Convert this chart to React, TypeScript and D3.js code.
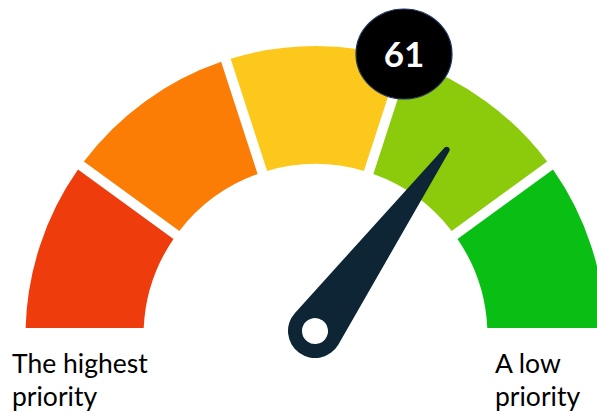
import React from 'react';
import * as d3 from 'd3';

// five bands of the gauge, left (highest priority) to right (low priority)
const bands = ['highest', 'high', 'medium', 'low-ish', 'low'];
const bandColors = ['#ef3c0d', '#fb7d06', '#fcc81b', '#8ccb0c', '#09bf13'];
const displayValue = 61;
const needleValue = 70; // where the needle actually points on a 0-100 dial
const leftLabel = ['The highest', 'priority'];
const rightLabel = ['A low', 'priority'];

const W = 597;
const H = 416;

export default function App() {
  const cx = 315.5;
  const cy = 336;
  const rOuter = 290;
  const rInner = 172;
  const gap = 10;

  // value -> angle (degrees clockwise from 12 o'clock)
  const angle = d3.scaleLinear().domain([0, 100]).range([-90, 90]);
  const bandScale = d3.scaleBand<string>().domain(bands).range([-Math.PI / 2, Math.PI / 2]);

  const arc = d3.arc<any>()
    .innerRadius(rInner)
    .outerRadius(rOuter)
    .padRadius(rOuter)
    .padAngle(gap / rOuter);

  // needle: tapered shape between a base circle and a small tip circle
  const pivot = { x: 315, y: 331 };
  const baseR = 27;
  const tipR = 3;
  const len = 224;
  const needlePath = (() => {
    const a = Math.asin((baseR - tipR) / len);
    const p = d3.path();
    const bx1 = -baseR * Math.cos(a), by1 = -baseR * Math.sin(a);
    const tx1 = -tipR * Math.cos(a), ty1 = -len - tipR * Math.sin(a);
    p.moveTo(bx1, by1);
    p.lineTo(tx1, ty1);
    p.arc(0, -len, tipR, Math.PI + a, 2 * Math.PI - a);
    p.lineTo(baseR * Math.cos(a), -baseR * Math.sin(a));
    p.arc(0, 0, baseR, -a, Math.PI + a);
    p.closePath();
    return p.toString();
  })();

  return (
    <div>
      <style>{`body{margin:0}`}</style>
      <svg width={W} height={H} style={{ display: 'block', background: '#fff' }}>
        <defs>
          <clipPath id="gaugeClip">
            <rect x={0} y={0} width={W} height={328} />
          </clipPath>
        </defs>
        <g clipPath="url(#gaugeClip)">
          <g transform={`translate(${cx},${cy})`}>
            {bands.map((b, i) => (
              <path
                key={b}
                d={arc({ startAngle: bandScale(b)!, endAngle: bandScale(b)! + bandScale.bandwidth() }) || ''}
                fill={bandColors[i]}
              />
            ))}
          </g>
        </g>

        <g transform={`translate(${pivot.x},${pivot.y}) rotate(${angle(needleValue)})`}>
          <path d={needlePath} fill="#0d2535" />
          <circle r={13} fill="#fff" />
        </g>

        <ellipse cx={404} cy={54} rx={48} ry={45} fill="#000" stroke="#1d3560" strokeWidth={1.2} />
        <text
          x={404}
          y={66.5}
          textAnchor="middle"
          fill="#fff"
          fontFamily="Lato, 'Open Sans', sans-serif"
          fontWeight="bold"
          fontSize={35}
        >
          {displayValue}
        </text>

        <g fontFamily="Lato, 'Open Sans', sans-serif" fontSize={26.5} fill="#000">
          <text x={12} y={373}>{leftLabel[0]}</text>
          <text x={12} y={406}>{leftLabel[1]}</text>
          <text x={495} y={373}>{rightLabel[0]}</text>
          <text x={495} y={406}>{rightLabel[1]}</text>
        </g>
      </svg>
    </div>
  );
}
